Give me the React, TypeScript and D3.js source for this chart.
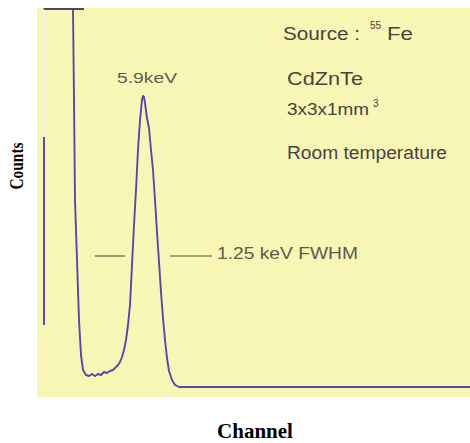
import React from 'react';
import * as d3 from 'd3';

// spectrum (channel, counts)
const channels = [14, 14, 72, 74, 76, 80, 84, 88, 92, 98, 104, 110, 116, 122, 128, 134, 140, 146, 152, 158, 162, 166, 170, 174, 178, 182, 186, 188, 190, 192, 194, 198, 202, 206, 210, 212, 214, 216, 220, 224, 228, 232, 236, 240, 244, 248, 252, 256, 260, 264, 270, 276, 284, 866];
const counts = [620, 3780, 3780, 2870, 1870, 1270, 670, 320, 170, 120, 110, 130, 110, 130, 120, 150, 140, 160, 170, 200, 220, 250, 300, 370, 470, 620, 820, 1020, 1220, 1420, 1620, 1970, 2370, 2670, 2870, 2910, 2900, 2840, 2690, 2590, 2370, 2170, 1870, 1550, 1250, 950, 690, 470, 290, 160, 70, 20, 0, 0];

// the clipped top of the noise edge
const clipChannels = [14, 94];
const clipCount = 3780;
const fadedCounts = [2500, 3780];

// FWHM markers
const fwhmLeft = [116, 176];
const fwhmRight = [266, 350];
const fwhmCount = 1310;

const W = 470;
const H = 443;

const App = () => {
  const x = d3.scaleLinear().domain([0, 866]).range([37, 470]);
  const y = d3.scaleLinear().domain([0, 3800]).range([387, 7]);

  const pts = channels.map((c, i) => [c, counts[i]] as [number, number]);
  const line = d3.line<[number, number]>().x(d => x(d[0])).y(d => y(d[1]));

  const txt = '#4a4242';
  const sans = '"Liberation Sans", Arial, sans-serif';
  const serif = '"Liberation Serif", "Times New Roman", serif';

  return (
    <svg width={W} height={H} style={{ position: 'absolute', left: 0, top: 0, background: '#fff' }}>
      <rect x={37} y={8} width={433} height={389} fill="#f8f6b4" />

      <path d={line(pts) || ''} fill="none" stroke="#5746ab" strokeWidth={1.9} strokeLinejoin="round" />
      <line x1={x(channels[0])} x2={x(channels[0])} y1={y(fadedCounts[0])} y2={y(fadedCounts[1])} stroke="#f2f0ea" strokeWidth={2.2} />
      <line x1={x(clipChannels[0])} x2={x(clipChannels[1])} y1={y(clipCount)} y2={y(clipCount)} stroke="#5c4360" strokeWidth={2} />

      <line x1={x(fwhmLeft[0])} x2={x(fwhmLeft[1])} y1={y(fwhmCount)} y2={y(fwhmCount)} stroke="#8a8658" strokeWidth={1.6} />
      <line x1={x(fwhmRight[0])} x2={x(fwhmRight[1])} y1={y(fwhmCount)} y2={y(fwhmCount)} stroke="#8a8658" strokeWidth={1.6} />
      <text x={x(360)} y={y(1280)} fontFamily={sans} fontSize={17} fill="#5e5a50" textLength={141} lengthAdjust="spacingAndGlyphs">1.25 keV FWHM</text>

      <text x={x(220)} y={y(3040)} fontFamily={sans} fontSize={15} fill="#5e5a50" textAnchor="middle" textLength={60} lengthAdjust="spacingAndGlyphs">5.9keV</text>

      <text x={283} y={40} fontFamily={sans} fontSize={18} fill={txt} textLength={77} lengthAdjust="spacingAndGlyphs">Source :</text>
      <text x={370} y={29} fontFamily={sans} fontSize={10} fill={txt}>55</text>
      <text x={387} y={40} fontFamily={sans} fontSize={18} fill={txt} textLength={26} lengthAdjust="spacingAndGlyphs">Fe</text>

      <text x={287} y={85} fontFamily={sans} fontSize={18} fill={txt} textLength={76} lengthAdjust="spacingAndGlyphs">CdZnTe</text>
      <text x={287} y={115} fontFamily={sans} fontSize={16} fill={txt} textLength={82} lengthAdjust="spacingAndGlyphs">3x3x1mm</text>
      <text x={373} y={107} fontFamily={sans} fontSize={10} fill={txt}>3</text>
      <text x={287} y={159} fontFamily={sans} fontSize={18} fill={txt} textLength={160} lengthAdjust="spacingAndGlyphs">Room temperature</text>

      <text transform="translate(23,166) rotate(-90)" fontFamily={serif} fontWeight="bold" fontSize={18} textAnchor="middle" fill="#000" textLength={47} lengthAdjust="spacingAndGlyphs">Counts</text>
      <text x={255} y={438} fontFamily={serif} fontWeight="bold" fontSize={21} textAnchor="middle" fill="#000">Channel</text>
    </svg>
  );
};

export default App;
